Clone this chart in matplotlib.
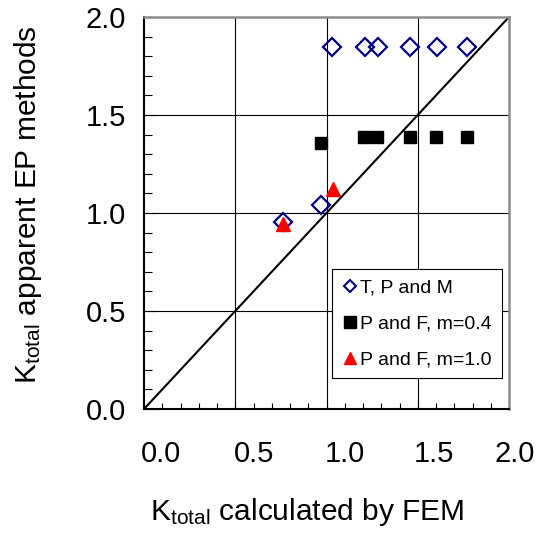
import matplotlib
matplotlib.use("Agg")
import matplotlib.pyplot as plt
from matplotlib.lines import Line2D
from matplotlib.transforms import ScaledTranslation
import numpy as np

plt.rcParams['font.family'] = ['Liberation Sans', 'DejaVu Sans']
plt.rcParams['mathtext.fontset'] = 'custom'
plt.rcParams['mathtext.rm'] = 'Liberation Sans'
plt.rcParams['mathtext.it'] = 'Liberation Sans'

# K_total from FEM (x) against apparent K_total from EP methods (y)
tpm_x = [0.763, 0.970, 1.032, 1.211, 1.281, 1.458, 1.604, 1.768]
tpm_y = [0.956, 1.041, 1.848, 1.848, 1.848, 1.848, 1.848, 1.848]

pf04_x = [0.970, 1.205, 1.279, 1.458, 1.600, 1.768]
pf04_y = [1.356, 1.389, 1.389, 1.389, 1.389, 1.389]

pf10_x = [0.763, 1.034]
pf10_y = [0.945, 1.125]

tick_vals = [0.0, 0.5, 1.0, 1.5, 2.0]
tick_labels = ["0.0", "0.5", "1.0", "1.5", "2.0"]

W, H, DPI = 539, 533, 100
fig = plt.figure(figsize=(W / DPI, H / DPI), dpi=DPI)
ax = fig.add_axes([144 / W, 1 - 409 / H, (509 - 144) / W, (409 - 17) / H])

ax.set_xlim(0, 2)
ax.set_ylim(0, 2)

# grid at the major steps
for v in tick_vals[1:-1]:
    ax.axvline(v, color='black', lw=0.8, zorder=1)
    ax.axhline(v, color='black', lw=0.8, zorder=1)

# 1:1 reference line
ax.plot([0, 2], [0, 2], color='black', lw=1.5, zorder=2)

ax.plot(tpm_x, tpm_y, linestyle='none', marker='D', ms=9.2, mfc='none',
        mec='#000080', mew=1.6, zorder=4)
ax.plot(pf04_x, pf04_y, linestyle='none', marker='s', ms=8.6, mfc='black',
        mec='black', zorder=3)
ax.plot(pf10_x, pf10_y, linestyle='none', marker='^', ms=9.5, mfc='red',
        mec='red', zorder=5)

ax.set_xticks(tick_vals, tick_labels)
ax.set_yticks(tick_vals, tick_labels)
ax.set_xticks(np.arange(0, 2.001, 0.1), minor=True)
ax.set_yticks(np.arange(0, 2.001, 0.1), minor=True)
ax.tick_params(axis='both', which='both', direction='in', width=0.8,
               labelsize=21, top=False, right=False)
ax.tick_params(axis='x', which='major', length=5, pad=22)
ax.tick_params(axis='x', which='minor', length=4)
ax.tick_params(axis='y', which='major', length=9, pad=13)
ax.tick_params(axis='y', which='minor', length=6)

# x tick labels sit a little to the right of their grid lines
x_label_shift_px = [17, 19, 18, 16, 6]
for lab, dx in zip(ax.get_xticklabels(), x_label_shift_px):
    lab.set_transform(lab.get_transform()
                      + ScaledTranslation(dx / DPI, 0, fig.dpi_scale_trans))

for side in ('left', 'bottom'):
    ax.spines[side].set_color('black')
    ax.spines[side].set_linewidth(1.5)
for side in ('top', 'right'):
    ax.spines[side].set_color('#8c8c8c')
    ax.spines[side].set_linewidth(1.8)

handles = [
    Line2D([], [], linestyle='none', marker='D', ms=6, mfc='none',
           mec='#000080', mew=1.5),
    Line2D([], [], linestyle='none', marker='s', ms=8, mfc='black',
           mec='black'),
    Line2D([], [], linestyle='none', marker='^', ms=9, mfc='red', mec='red'),
]
names = ["T, P and M", "P and F, m=0.4", "P and F, m=1.0"]
leg = ax.legend(handles, names, loc='upper left',
                bbox_to_anchor=((332 - 144) / 365, (409 - 269) / 392),
                fontsize=14, frameon=True, fancybox=False, framealpha=1,
                edgecolor='black', handlelength=0.8, handletextpad=0.15,
                labelspacing=0.95, borderpad=0.5, borderaxespad=0)
leg.get_frame().set_linewidth(0.8)
leg.set_zorder(6)

fig.text(307 / W, 1 - 512 / H, r"K$_{\mathrm{total}}$ calculated by FEM",
         ha='center', va='center', fontsize=21.5)
fig.text(28 / W, 1 - 205 / H, r"K$_{\mathrm{total}}$ apparent EP methods",
         ha='center', va='center', rotation=90, fontsize=21.5)

fig.savefig("out.png", dpi=DPI)
